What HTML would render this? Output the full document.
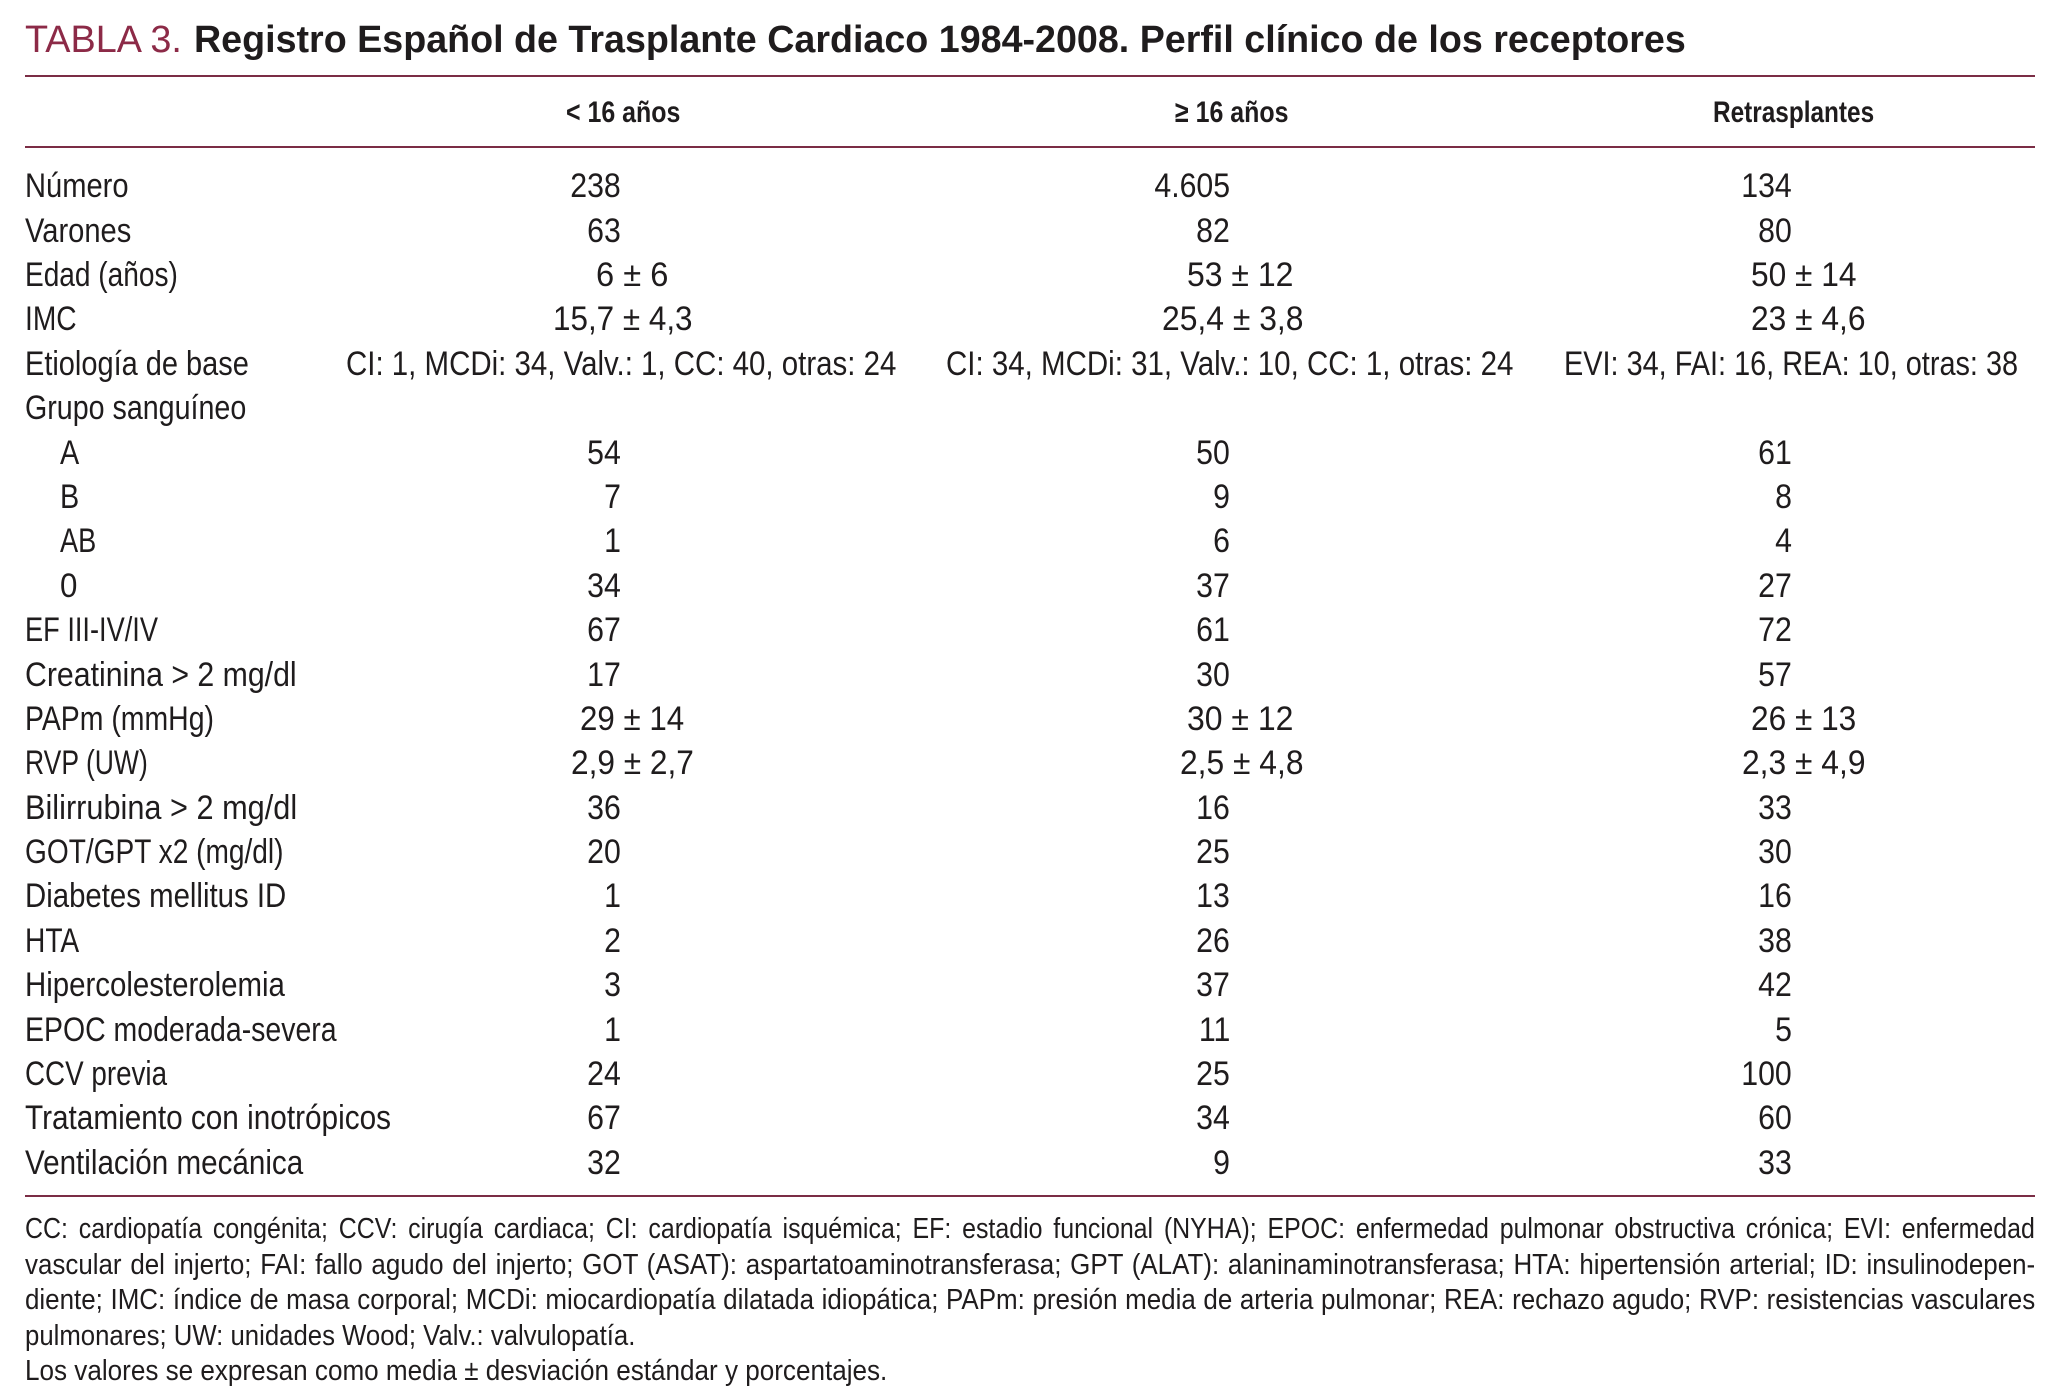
<!DOCTYPE html>
<html lang="es">
<head>
<meta charset="utf-8">
<title>Tabla 3</title>
<style>
html,body{margin:0;padding:0;background:#fff}
#page{position:relative;width:2058px;height:1400px;overflow:hidden;background:#fff;font-family:"Liberation Sans",Arial,sans-serif;color:#1f1c1d}
.rule{position:absolute;left:25px;width:2010px;height:2px;background:#7b2d45}
.row{position:absolute;left:0;width:2058px;height:40px}
.row span{position:absolute;top:-.7px;font-size:34px;line-height:40px;white-space:nowrap}
.l{transform:scaleX(var(--s,.847));transform-origin:left top}
.r{transform:scaleX(.89);transform-origin:right top}
.c1{right:1437px}.c2{right:828px}.c3{right:266px}
.lab{left:25px}
.sub{left:60px}
.hd{position:absolute;top:92.6px;font-size:30px;line-height:40px;font-weight:bold;white-space:nowrap;transform:scaleX(var(--s,.831));transform-origin:left top}
#title{position:absolute;left:25px;top:18px;font-size:37.8px;line-height:44px;white-space:nowrap}
#title b{position:absolute;left:169px;top:0;transform:scaleX(.996);transform-origin:left top}
.fn{position:absolute;left:25px;font-size:28.5px;line-height:36px;white-space:nowrap;transform:scaleX(var(--s,.91));transform-origin:left top}
.j{width:2209px;white-space:normal;text-align:justify;text-align-last:justify}
</style>
</head>
<body>
<div id="page">
<div id="title"><span style="color:#8c2a47">TABLA 3.</span><b>Registro Español de Trasplante Cardiaco 1984-2008. Perfil clínico de los receptores</b></div>
<div class="rule" style="top:75px"></div>
<div class="hd" style="left:566px">&lt; 16 años</div>
<div class="hd" style="left:1175px">≥ 16 años</div>
<div class="hd" style="left:1713px;--s:.812">Retrasplantes</div>
<div class="rule" style="top:146px"></div>

<div class="row" style="top:167px"><span class="l lab" style="--s:.856">Número</span><span class="r c1">238</span><span class="r c2">4.605</span><span class="r c3">134</span></div>
<div class="row" style="top:211.4px"><span class="l lab" style="--s:.856">Varones</span><span class="r c1">63</span><span class="r c2">82</span><span class="r c3">80</span></div>
<div class="row" style="top:255.8px"><span class="l lab" style="--s:.825">Edad (años)</span><span class="l" style="left:596px;--s:.96">6 ± 6</span><span class="l" style="left:1187px;--s:.94">53 ± 12</span><span class="l" style="left:1751px;--s:.932">50 ± 14</span></div>
<div class="row" style="top:300.1px"><span class="l lab" style="--s:.828">IMC</span><span class="l" style="left:553px;--s:.924">15,7 ± 4,3</span><span class="l" style="left:1162px;--s:.937">25,4 ± 3,8</span><span class="l" style="left:1751px;--s:.934">23 ± 4,6</span></div>
<div class="row" style="top:344.5px"><span class="l lab" style="--s:.852">Etiología de base</span><span class="l" style="left:346px;--s:.866">CI: 1, MCDi: 34, Valv.: 1, CC: 40, otras: 24</span><span class="l" style="left:946px;--s:.867">CI: 34, MCDi: 31, Valv.: 10, CC: 1, otras: 24</span><span class="l" style="left:1564px;--s:.849">EVI: 34, FAI: 16, REA: 10, otras: 38</span></div>
<div class="row" style="top:388.9px"><span class="l lab" style="--s:.842">Grupo sanguíneo</span></div>
<div class="row" style="top:433.3px"><span class="l sub">A</span><span class="r c1">54</span><span class="r c2">50</span><span class="r c3">61</span></div>
<div class="row" style="top:477.7px"><span class="l sub">B</span><span class="r c1">7</span><span class="r c2">9</span><span class="r c3">8</span></div>
<div class="row" style="top:522px"><span class="l sub" style="--s:.8">AB</span><span class="r c1">1</span><span class="r c2">6</span><span class="r c3">4</span></div>
<div class="row" style="top:566.4px"><span class="l sub" style="--s:.92">0</span><span class="r c1">34</span><span class="r c2">37</span><span class="r c3">27</span></div>
<div class="row" style="top:610.8px"><span class="l lab" style="--s:.8">EF III-IV/IV</span><span class="r c1">67</span><span class="r c2">61</span><span class="r c3">72</span></div>
<div class="row" style="top:655.2px"><span class="l lab" style="--s:.89">Creatinina &gt; 2 mg/dl</span><span class="r c1">17</span><span class="r c2">30</span><span class="r c3">57</span></div>
<div class="row" style="top:699.6px"><span class="l lab" style="--s:.836">PAPm (mmHg)</span><span class="l" style="left:580px;--s:.92">29 ± 14</span><span class="l" style="left:1187px;--s:.94">30 ± 12</span><span class="l" style="left:1751px;--s:.93">26 ± 13</span></div>
<div class="row" style="top:744px"><span class="l lab" style="--s:.78">RVP (UW)</span><span class="l" style="left:571px;--s:.93">2,9 ± 2,7</span><span class="l" style="left:1180px;--s:.935">2,5 ± 4,8</span><span class="l" style="left:1742px;--s:.935">2,3 ± 4,9</span></div>
<div class="row" style="top:788.3px"><span class="l lab" style="--s:.903">Bilirrubina &gt; 2 mg/dl</span><span class="r c1">36</span><span class="r c2">16</span><span class="r c3">33</span></div>
<div class="row" style="top:832.7px"><span class="l lab" style="--s:.826">GOT/GPT x2 (mg/dl)</span><span class="r c1">20</span><span class="r c2">25</span><span class="r c3">30</span></div>
<div class="row" style="top:877.1px"><span class="l lab" style="--s:.864">Diabetes mellitus ID</span><span class="r c1">1</span><span class="r c2">13</span><span class="r c3">16</span></div>
<div class="row" style="top:921.5px"><span class="l lab" style="--s:.828">HTA</span><span class="r c1">2</span><span class="r c2">26</span><span class="r c3">38</span></div>
<div class="row" style="top:965.8px"><span class="l lab" style="--s:.865">Hipercolesterolemia</span><span class="r c1">3</span><span class="r c2">37</span><span class="r c3">42</span></div>
<div class="row" style="top:1010.2px"><span class="l lab" style="--s:.837">EPOC moderada-severa</span><span class="r c1">1</span><span class="r c2">11</span><span class="r c3">5</span></div>
<div class="row" style="top:1054.6px"><span class="l lab" style="--s:.817">CCV previa</span><span class="r c1">24</span><span class="r c2">25</span><span class="r c3">100</span></div>
<div class="row" style="top:1099px"><span class="l lab" style="--s:.875">Tratamiento con inotrópicos</span><span class="r c1">67</span><span class="r c2">34</span><span class="r c3">60</span></div>
<div class="row" style="top:1143.4px"><span class="l lab" style="--s:.871">Ventilación mecánica</span><span class="r c1">32</span><span class="r c2">9</span><span class="r c3">33</span></div>

<div class="rule" style="top:1195px"></div>
<div class="fn j" style="top:1211px;--s:.875;width:2297px">CC: cardiopatía congénita; CCV: cirugía cardiaca; CI: cardiopatía isquémica; EF: estadio funcional (NYHA); EPOC: enfermedad pulmonar obstructiva crónica; EVI: enfermedad</div>
<div class="fn j" style="top:1246.5px">vascular del injerto; FAI: fallo agudo del injerto; GOT (ASAT): aspartatoaminotransferasa; GPT (ALAT): alaninaminotransferasa; HTA: hipertensión arterial; ID: insulinodepen-</div>
<div class="fn j" style="top:1282px">diente; IMC: índice de masa corporal; MCDi: miocardiopatía dilatada idiopática; PAPm: presión media de arteria pulmonar; REA: rechazo agudo; RVP: resistencias vasculares</div>
<div class="fn" style="top:1317.5px;--s:.903">pulmonares; UW: unidades Wood; Valv.: valvulopatía.</div>
<div class="fn" style="top:1353px;--s:.915">Los valores se expresan como media ± desviación estándar y porcentajes.</div>
</div>
</body>
</html>
